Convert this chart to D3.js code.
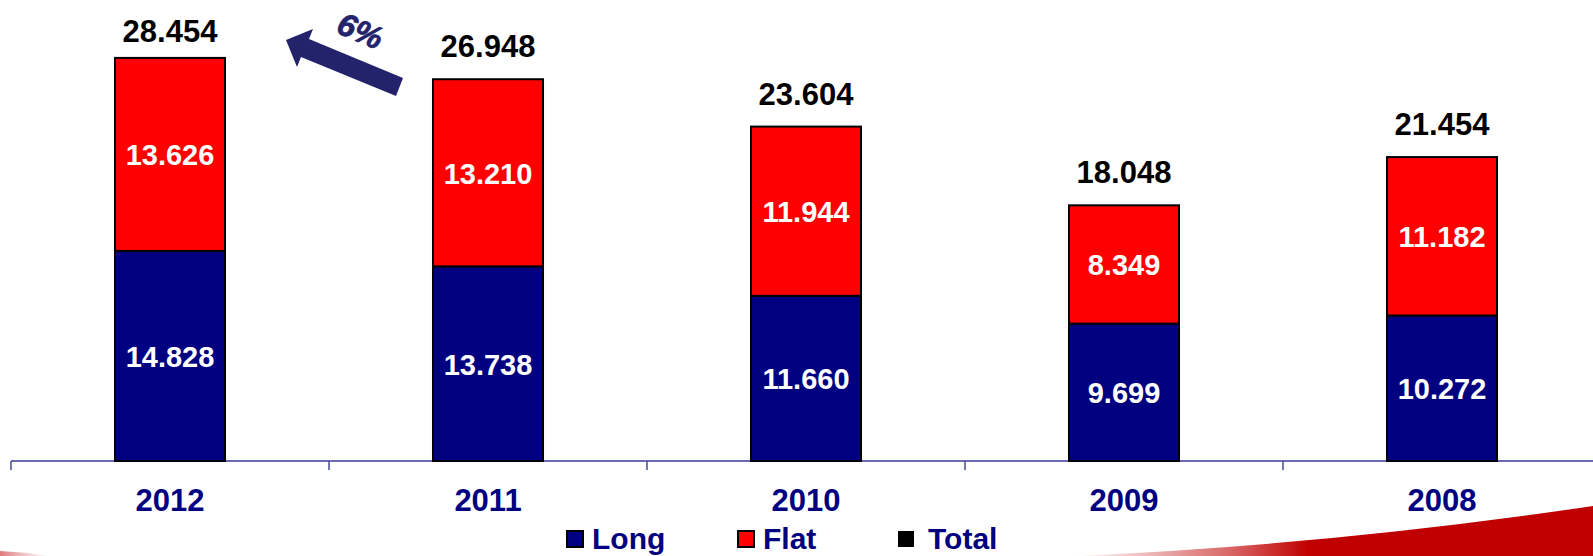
<!DOCTYPE html>
<html>
<head>
<meta charset="utf-8">
<script src="https://cdn.jsdelivr.net/npm/d3@7/dist/d3.min.js"></script>
<style>
  html, body { margin: 0; padding: 0; background: #fff; }
  svg { display: block; font-family: "Liberation Sans", Arial, sans-serif; }
</style>
</head>
<body>
<svg id="chart" width="1593" height="556"></svg>
<script>
const years = ["2012", "2011", "2010", "2009", "2008"];
const longValues = [14.828, 13.738, 11.660, 9.699, 10.272];
const flatValues = [13.626, 13.210, 11.944, 8.349, 11.182];
const totalValues = [28.454, 26.948, 23.604, 18.048, 21.454];
const seriesNames = ["Long", "Flat", "Total"];
const growthLabel = "6%";

const fmt = v => v.toFixed(3);

const svg = d3.select("#chart");
const W = 1593, H = 556;
const baseY = 461;

const defs = svg.append("defs");
const g1 = defs.append("linearGradient").attr("id", "swoosh").attr("x1", "0").attr("x2", "1").attr("y1", "0").attr("y2", "0");
g1.append("stop").attr("offset", "0").attr("stop-color", "#C00000").attr("stop-opacity", 0);
g1.append("stop").attr("offset", "0.3").attr("stop-color", "#C00000").attr("stop-opacity", 0.6);
g1.append("stop").attr("offset", "0.45").attr("stop-color", "#C00000").attr("stop-opacity", 1);
g1.append("stop").attr("offset", "1").attr("stop-color", "#C00000").attr("stop-opacity", 1);
const g2 = defs.append("linearGradient").attr("id", "swooshL").attr("x1", "0").attr("x2", "1").attr("y1", "0").attr("y2", "0");
g2.append("stop").attr("offset", "0").attr("stop-color", "#D04040").attr("stop-opacity", 0.7);
g2.append("stop").attr("offset", "1").attr("stop-color", "#E08080").attr("stop-opacity", 0);

// decorative swooshes
svg.append("path")
  .attr("d", "M1075,556 Q1330,545 1593,506 L1593,556 Z")
  .attr("fill", "url(#swoosh)");
svg.append("path")
  .attr("d", "M0,551 Q25,552 50,556 L0,556 Z")
  .attr("fill", "url(#swooshL)");

const x = d3.scaleBand()
  .domain(years)
  .range([11, 1601])
  .paddingInner(0.654)
  .paddingOuter(0.327);

const y = d3.scaleLinear().domain([0, 30]).range([baseY, 36]);

const data = years.map((yr, i) => ({ year: yr, long: longValues[i], flat: flatValues[i], total: totalValues[i] }));
const stack = d3.stack().keys(["long", "flat"])(data);
const colors = { long: "#000080", flat: "#FF0000" };

// axis
const axisG = svg.append("g").attr("transform", `translate(0,${baseY})`);
axisG.append("line").attr("x1", 11).attr("x2", W).attr("y1", 0).attr("y2", 0)
  .attr("stroke", "#6B6BB0").attr("stroke-width", 2);
const step = x.step();
const bounds = d3.range(years.length + 1).map(i => 11 + i * step);
axisG.selectAll("line.tick").data(bounds).join("line")
  .attr("class", "tick")
  .attr("x1", d => d).attr("x2", d => d).attr("y1", 0).attr("y2", 9)
  .attr("stroke", "#4A4A9A").attr("stroke-width", 1.5);

const labelAxis = d3.axisBottom(x).tickSize(0).tickPadding(0);
const lab = svg.append("g").attr("transform", `translate(0,${baseY})`).call(labelAxis);
lab.select(".domain").remove();
lab.selectAll("text")
  .attr("y", 50).attr("dy", 0)
  .attr("fill", "#000080")
  .attr("font-size", 31).attr("font-weight", "bold")
  .attr("font-family", "'Liberation Sans', Arial, sans-serif");

// bars
stack.forEach(layer => {
  const key = layer.key;
  svg.append("g").selectAll("rect").data(layer).join("rect")
    .attr("x", d => x(d.data.year))
    .attr("width", x.bandwidth())
    .attr("y", d => y(d[1]))
    .attr("height", d => y(d[0]) - y(d[1]))
    .attr("fill", colors[key])
    .attr("stroke", "#000").attr("stroke-width", 2);
  svg.append("g").selectAll("text").data(layer).join("text")
    .attr("x", d => x(d.data.year) + x.bandwidth() / 2)
    .attr("y", d => (y(d[0]) + y(d[1])) / 2 + 11)
    .attr("text-anchor", "middle")
    .attr("fill", "#fff")
    .attr("font-size", 29).attr("font-weight", "bold")
    .text(d => fmt(d.data[key]));
});

// totals
svg.append("g").selectAll("text").data(data).join("text")
  .attr("x", d => x(d.year) + x.bandwidth() / 2)
  .attr("y", d => Math.max(y(d.total) - 22, 42))
  .attr("text-anchor", "middle")
  .attr("fill", "#000")
  .attr("font-size", 31).attr("font-weight", "bold")
  .text(d => fmt(d.total));

// growth arrow
svg.append("path")
  .attr("d", "M286,40 L313,29 L309,39 L403,78 L396,96 L301,57 L297,67 Z")
  .attr("fill", "#23236B");
svg.append("text")
  .attr("transform", "translate(356,41) rotate(23)")
  .attr("text-anchor", "middle")
  .attr("fill", "#23236B")
  .attr("stroke", "#23236B").attr("stroke-width", 0.8)
  .attr("font-size", 32).attr("font-weight", "bold").attr("font-style", "italic")
  .text(growthLabel);

// legend
const legend = [
  { name: seriesNames[0], color: "#000080", stroke: "#000", mx: 567, tx: 592 },
  { name: seriesNames[1], color: "#FF0000", stroke: "#000", mx: 738, tx: 763 },
  { name: seriesNames[2], color: "#000", stroke: "none", mx: 898, tx: 928 }
];
const lg = svg.append("g");
lg.selectAll("rect").data(legend).join("rect")
  .attr("x", d => d.mx).attr("y", 531).attr("width", 16).attr("height", 16)
  .attr("fill", d => d.color)
  .attr("stroke", d => d.stroke).attr("stroke-width", 2);
lg.selectAll("text").data(legend).join("text")
  .attr("x", d => d.tx).attr("y", 549)
  .attr("fill", "#000080")
  .attr("font-size", 30).attr("font-weight", "bold")
  .text(d => d.name);
</script>
</body>
</html>
